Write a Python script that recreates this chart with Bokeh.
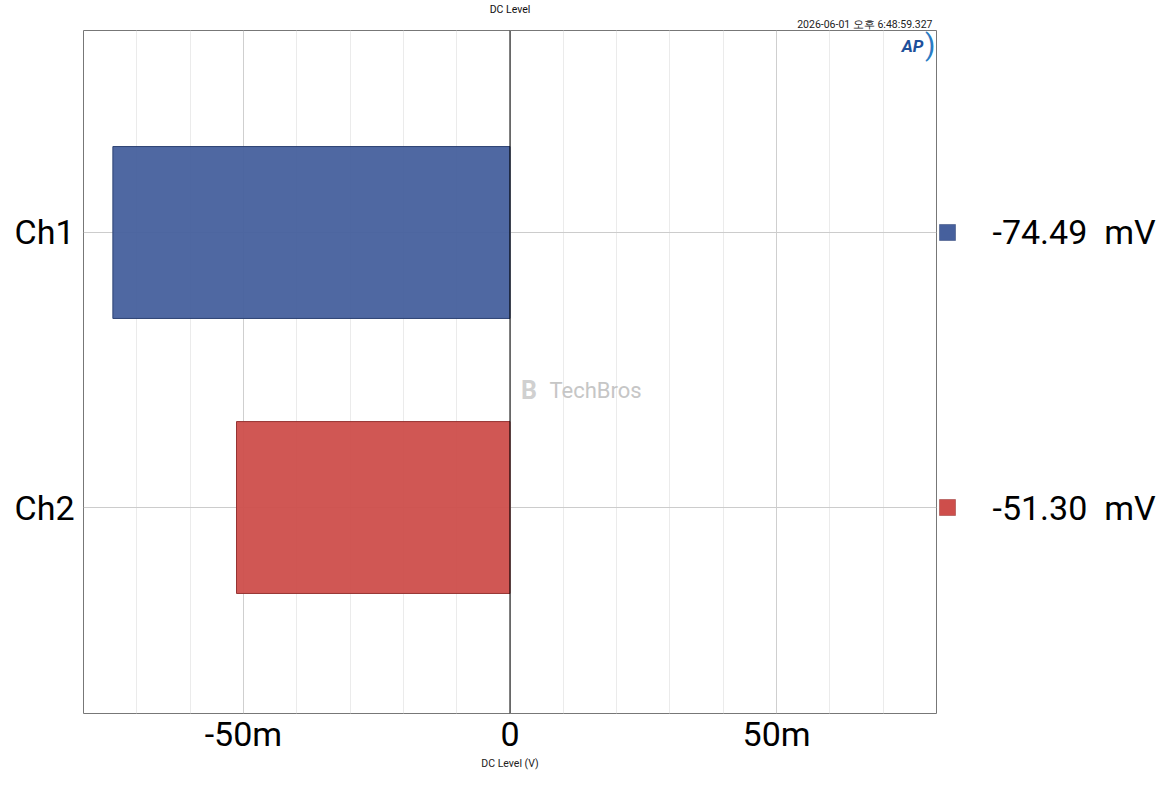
from bokeh.plotting import figure
from bokeh.models import Range1d, FixedTicker, Label, Span, ColumnDataSource, Title
from bokeh.layouts import row
from bokeh.embed import file_html
from bokeh.resources import INLINE
from bokeh.core.properties import value

# ---- data -------------------------------------------------------------
channels = ["Ch1", "Ch2"]
dc_level_v = [-0.07449, -0.05130]
bar_colors = ["#46609d", "#ce4e4b"]
edge_colors = ["#2c4172", "#963433"]
x_major_ticks = [-0.05, 0.0, 0.05]
x_tick_labels = ["-50m", "0", "50m"]
x_minor_ticks = [-0.07, -0.06, -0.04, -0.03, -0.02, -0.01,
                 0.01, 0.02, 0.03, 0.04, 0.06, 0.07]
title_text = "DC Level"
timestamp_text = "2026-06-01 오후 6:48:59.327"
x_axis_title = "DC Level (V)"
watermark_text = "TechBros"
unit_text = "mV"

# ---- derived ----------------------------------------------------------
ypos = [len(channels) - 1 - i for i in range(len(channels))]
legend_texts = [f"{v * 1000:.2f}\u00a0 {unit_text}" for v in dc_level_v]

FONT = "Roboto"
SMALL_FONT = "Roboto"
W1, W2, H = 937, 221, 774
TOP, BOTTOM = 30, 61

src = ColumnDataSource(dict(y=ypos, x=dc_level_v, color=bar_colors,
                            edge=edge_colors, label=legend_texts))

y_range = Range1d(-0.749, 1.7345)
x_range = Range1d(-0.08, 0.08)

p = figure(width=W1, height=H, x_range=x_range, y_range=y_range,
           output_backend="svg", toolbar_location=None,
           min_border_left=83, min_border_right=1,
           min_border_top=TOP, min_border_bottom=BOTTOM)
p.background_fill_color = "white"
p.border_fill_color = "white"
p.outline_line_color = "#777777"
p.outline_line_width = 1

# titles: chart title outermost, timestamp next to the frame
p.title.text = title_text
p.title.align = "center"
p.title.text_font = SMALL_FONT
p.title.text_font_size = "10.5px"
p.title.text_font_style = "normal"
p.title.text_color = "#111111"
p.title.standoff = 0
p.add_layout(Title(text=timestamp_text, align="right", text_font=SMALL_FONT,
                   text_font_size="10.5px", text_font_style="normal",
                   text_color="#222222", standoff=0, offset=4), "above")

# grid
p.xaxis.ticker = FixedTicker(ticks=x_major_ticks, minor_ticks=x_minor_ticks)
p.yaxis.ticker = FixedTicker(ticks=ypos)
p.xgrid.grid_line_color = "#cfcfcf"
p.xgrid.minor_grid_line_color = "#ebebeb"
p.ygrid.grid_line_color = "#cccccc"

# axes
for ax in (p.xaxis, p.yaxis):
    ax.axis_line_color = None
    ax.major_tick_line_color = None
    ax.minor_tick_line_color = None
    ax.major_tick_out = 0
    ax.minor_tick_out = 0
    ax.major_label_text_font = FONT
    ax.major_label_text_font_size = "34px"
    ax.major_label_text_color = "black"
p.xaxis.major_label_standoff = 0
p.yaxis.major_label_standoff = 9
p.xaxis.major_label_overrides = {t: s for t, s in zip(x_major_ticks, x_tick_labels)}
p.yaxis.major_label_overrides = {y: c for y, c in zip(ypos, channels)}
p.xaxis.axis_label = x_axis_title
p.xaxis.axis_label_text_font = SMALL_FONT
p.xaxis.axis_label_text_font_size = "10.5px"
p.xaxis.axis_label_text_font_style = "normal"
p.xaxis.axis_label_text_color = "#222222"
p.xaxis.axis_label_standoff = 0

# bars
p.hbar(y="y", left=0, right="x", height=0.625, source=src,
       fill_color="color", fill_alpha=0.95, line_color="edge", line_width=1)

# zero line
p.add_layout(Span(location=0, dimension="height", line_color="black", line_width=1))

# AP logo
p.add_layout(Label(x=0.0755, y=1.678, text="AP", text_align="center",
                   text_baseline="middle", text_font="Roboto",
                   text_font_style="bold italic", text_font_size="17px",
                   text_color="#1d4f9a"))
p.add_layout(Label(x=0.0788, y=1.682, text=")", text_align="center",
                   text_baseline="middle", text_font="Roboto",
                   text_font_size="30px", text_color="#2a7cc4"))

# watermark
p.add_layout(Label(x=0.00205, y=0.426, text="B", text_align="left",
                   text_baseline="middle", text_font="Roboto",
                   text_font_style="bold", text_font_size="25px",
                   text_color="#d0d0d0"))
p.add_layout(Label(x=0.00740, y=0.426, text=watermark_text, text_align="left",
                   text_baseline="middle", text_font="Roboto",
                   text_font_size="22px", text_color="#c6c6c6"))

# ---- right-hand value column ---------------------------------------------
p2 = figure(width=W2, height=H, x_range=Range1d(0, W2), y_range=y_range,
            output_backend="svg", toolbar_location=None,
            min_border_left=0, min_border_right=0,
            min_border_top=TOP, min_border_bottom=BOTTOM,
            x_axis_location=None, y_axis_location=None)
p2.outline_line_color = None
p2.background_fill_color = "white"
p2.border_fill_color = "white"
p2.grid.grid_line_color = None

p2.scatter(x=10, y="y", source=src, marker="square", size=16,
           fill_color="color", line_color="edge", line_width=0.5)
p2.text(x=55, y="y", text="label", source=src, text_align="left",
        text_baseline="middle", text_font=value(FONT),
        text_font_size="34px", text_color="black")

layout = row(p, p2)
open("out.html", "w").write(file_html(layout, INLINE))
